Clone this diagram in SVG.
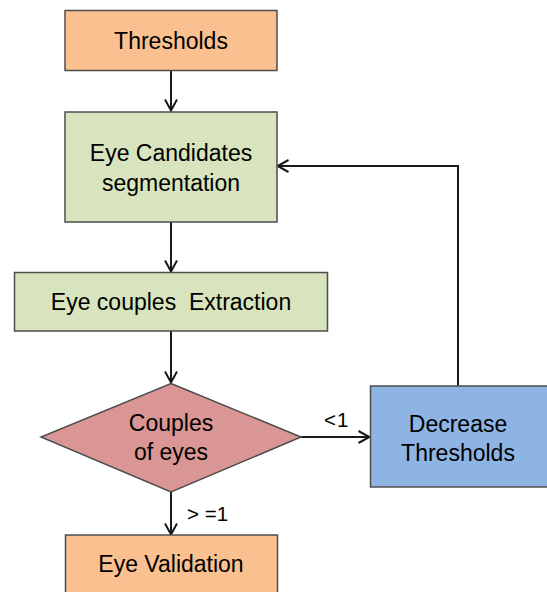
<svg xmlns="http://www.w3.org/2000/svg" width="547" height="592" viewBox="0 0 547 592">
<style>
.box{stroke:#4d4d4d;stroke-width:1.5}
.orange{fill:#FAC090}
.green{fill:#D7E4BD}
.red{fill:#D99694}
.blue{fill:#8EB4E3}
.t{font-family:"Liberation Sans",Arial,sans-serif;font-size:23px;fill:#000;text-anchor:middle}
.lbl{font-family:"Liberation Sans",Arial,sans-serif;font-size:20.5px;fill:#000;white-space:pre}
.conn{fill:none;stroke:#1a1a1a;stroke-width:2}
</style>
<defs>
<marker id="arr" viewBox="0 0 14 14" refX="13" refY="7" markerWidth="14" markerHeight="14" markerUnits="userSpaceOnUse" orient="auto">
<path d="M1.5,1 L12.5,7 L1.5,13" fill="none" stroke="#1a1a1a" stroke-width="2"/>
</marker>
</defs>
<rect width="547" height="592" fill="#fff"/>
<g id="connectors">
<path class="conn" d="M171,70 V111" marker-end="url(#arr)"/>
<path class="conn" d="M171,222 V272" marker-end="url(#arr)"/>
<path class="conn" d="M171,331 V383" marker-end="url(#arr)"/>
<path class="conn" d="M301,437 H370" marker-end="url(#arr)"/>
<path class="conn" d="M458,386 V166 H277" marker-end="url(#arr)"/>
<path class="conn" d="M171,492 V535" marker-end="url(#arr)"/>
<text class="lbl" x="324" y="427" letter-spacing="1">&lt;1</text>
<text class="lbl" x="187" y="521">&gt; =1</text>
</g>
<g id="thresholds">
<rect class="box orange" x="65" y="10.5" width="212" height="60"/>
<text class="t" x="171" y="49">Thresholds</text>
</g>
<g id="eye-candidates">
<rect class="box green" x="65" y="112" width="212" height="110"/>
<text class="t" x="171" y="161">Eye Candidates</text>
<text class="t" x="171" y="191">segmentation</text>
</g>
<g id="eye-couples">
<rect class="box green" x="14.5" y="272.5" width="313" height="58.5"/>
<text class="t" x="171" y="310" style="white-space:pre">Eye couples  Extraction</text>
</g>
<g id="couples-of-eyes">
<polygon class="box red" points="171,383.5 301,437 171,492 41,437"/>
<text class="t" x="171" y="431">Couples</text>
<text class="t" x="171" y="460">of eyes</text>
</g>
<g id="decrease-thresholds">
<rect class="box blue" x="370.5" y="386" width="190" height="101"/>
<text class="t" x="458" y="432">Decrease</text>
<text class="t" x="458" y="461">Thresholds</text>
</g>
<g id="eye-validation">
<rect class="box orange" x="65.5" y="535" width="212" height="70"/>
<text class="t" x="171" y="572">Eye Validation</text>
</g>
</svg>
